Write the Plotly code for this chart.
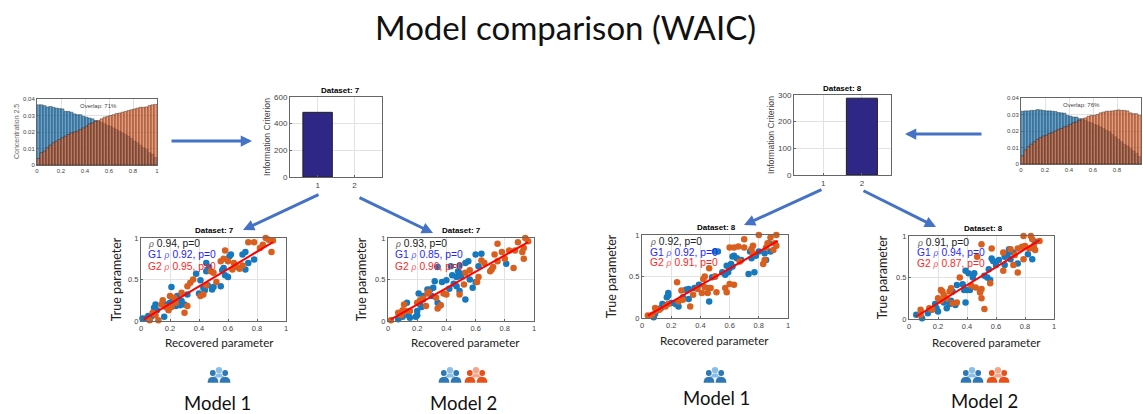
import plotly.graph_objects as go

W, H = 1143, 414

TITLE = "Model comparison (WAIC)"
HIST_BIN = 0.025

hist_l_blue = [0.0365,0.0365,0.036,0.0352,0.0355,0.035,0.0345,0.0342,0.034,0.0325,0.0325,0.032,0.031,0.0305,0.0305,0.0295,0.029,0.0285,0.028,0.027,
               0.0265,0.026,0.025,0.024,0.0235,0.0225,0.0215,0.0205,0.0195,0.0185,0.0175,0.016,0.0145,0.0135,0.012,0.0105,0.0095,0.0075,0.0065,0.0045]
hist_l_orange = [0.004,0.0075,0.0085,0.0105,0.012,0.0135,0.0145,0.0155,0.0165,0.0175,0.0185,0.0195,0.02,0.0205,0.0215,0.0225,0.0235,0.025,0.0255,0.0265,
                 0.027,0.028,0.029,0.0295,0.030,0.0305,0.0312,0.0315,0.032,0.0325,0.033,0.0335,0.034,0.0345,0.035,0.035,0.0352,0.036,0.0365,0.0367]
hist_r_blue = [0.032,0.0322,0.0322,0.0325,0.0325,0.033,0.0328,0.0325,0.0322,0.0322,0.032,0.0318,0.0312,0.031,0.0308,0.0295,0.029,0.0285,0.0285,0.0275,
               0.027,0.0265,0.0255,0.025,0.024,0.0235,0.0225,0.0215,0.0205,0.0195,0.018,0.0165,0.015,0.0135,0.012,0.011,0.0095,0.008,0.0065,0.0045]
hist_r_orange = [0.005,0.0085,0.0105,0.012,0.0135,0.015,0.016,0.017,0.0175,0.0185,0.019,0.02,0.021,0.0215,0.0225,0.023,0.024,0.025,0.0255,0.0265,
                 0.0275,0.028,0.029,0.0295,0.0295,0.030,0.031,0.0315,0.032,0.032,0.0322,0.0325,0.0328,0.0325,0.0325,0.0322,0.031,0.0305,0.0305,0.0295]

bar_models = [1, 2]
bar_l_values = [485, 0]
bar_r_values = [0, 288]

p1_g1 = [(0.01,0.03),(0.03,0.03),(0.05,0.06),(0.07,0.05),(0.09,0.16),(0.1,0.2),(0.11,0.13),(0.16,0.05),(0.18,0.2),(0.2,0.22),(0.21,0.41),(0.22,0.25),(0.24,0.18),(0.25,0.3),(0.26,0.21),(0.27,0.19),(0.28,0.24),(0.3,0.2),(0.32,0.32),(0.38,0.57),(0.4,0.33),(0.41,0.49),(0.43,0.4),(0.44,0.37),(0.45,0.6),(0.45,0.7),(0.46,0.43),(0.47,0.65),(0.49,0.38),(0.5,0.41),(0.55,0.42),(0.56,0.61),(0.57,0.64),(0.58,0.55),(0.6,0.53),(0.61,0.78),(0.62,0.8),(0.7,0.8),(0.72,0.62),(0.72,0.83),(0.74,0.7),(0.78,0.74)]
p1_g2 = [(0.06,0.01),(0.08,0.1),(0.1,0.07),(0.12,0.01),(0.14,0.2),(0.15,0.25),(0.17,0.17),(0.19,0.13),(0.2,0.3),(0.21,0.17),(0.23,0.28),(0.24,0.22),(0.28,0.34),(0.3,0.1),(0.32,0.18),(0.32,0.42),(0.34,0.46),(0.36,0.5),(0.41,0.3),(0.43,0.32),(0.45,0.43),(0.48,0.6),(0.5,0.58),(0.52,0.47),(0.55,0.72),(0.57,0.75),(0.58,0.85),(0.6,0.72),(0.63,0.62),(0.64,0.7),(0.66,0.65),(0.68,0.63),(0.7,0.67),(0.74,0.95),(0.78,0.95),(0.82,0.88),(0.84,0.92),(0.86,1.0),(0.88,0.98),(0.9,0.83),(0.91,0.97)]
p2_g1 = [(0.07,0.02),(0.1,0.05),(0.13,0.22),(0.14,0.07),(0.15,0.04),(0.19,0.05),(0.2,0.07),(0.2,0.12),(0.21,0.33),(0.22,0.2),(0.23,0.17),(0.24,0.26),(0.24,0.3),(0.27,0.38),(0.29,0.38),(0.3,0.3),(0.31,0.4),(0.32,0.48),(0.34,0.22),(0.36,0.19),(0.37,0.47),(0.4,0.49),(0.42,0.39),(0.44,0.55),(0.45,0.45),(0.47,0.42),(0.47,0.53),(0.48,0.6),(0.49,0.36),(0.5,0.57),(0.5,0.54),(0.53,0.26),(0.56,0.5),(0.58,0.4),(0.55,0.72),(0.6,0.47),(0.6,0.8),(0.62,0.66),(0.64,0.81),(0.34,0.65),(0.43,0.66),(0.49,0.67),(0.53,0.7),(0.81,0.69)]
p2_g2 = [(0.02,0.01),(0.07,0.1),(0.09,0.07),(0.1,0.13),(0.11,0.2),(0.12,0.12),(0.15,0.12),(0.2,0.22),(0.22,0.25),(0.24,0.27),(0.26,0.18),(0.27,0.33),(0.28,0.35),(0.33,0.28),(0.34,0.15),(0.36,0.19),(0.38,0.33),(0.4,0.32),(0.49,0.32),(0.52,0.44),(0.53,0.58),(0.56,0.61),(0.61,0.47),(0.62,0.53),(0.64,0.73),(0.66,0.7),(0.7,0.6),(0.71,0.62),(0.72,0.65),(0.73,0.8),(0.75,0.72),(0.78,0.83),(0.75,0.93),(0.8,0.75),(0.83,0.85),(0.86,0.64),(0.87,0.85),(0.89,0.95),(0.92,0.83),(0.93,0.75),(0.93,0.88),(0.94,1.0),(0.96,0.96)]
p3_g1 = [(0.08,0.01),(0.09,0.05),(0.13,0.12),(0.14,0.17),(0.16,0.15),(0.17,0.25),(0.18,0.27),(0.18,0.3),(0.2,0.18),(0.23,0.17),(0.25,0.14),(0.28,0.25),(0.3,0.34),(0.32,0.23),(0.32,0.35),(0.36,0.36),(0.39,0.4),(0.46,0.2),(0.46,0.36),(0.48,0.49),(0.5,0.5),(0.5,0.8),(0.52,0.8),(0.55,0.55),(0.57,0.52),(0.58,0.63),(0.59,0.55),(0.6,0.6),(0.61,0.65),(0.62,0.62),(0.62,0.74),(0.63,0.75),(0.65,0.72),(0.68,0.7),(0.73,0.53),(0.77,0.55),(0.74,0.8),(0.75,0.72),(0.78,0.75),(0.8,0.8),(0.85,0.7),(0.84,0.78),(0.87,0.9),(0.88,0.8)]
p3_g2 = [(0.04,0.03),(0.07,0.04),(0.09,0.12),(0.1,0.09),(0.12,0.1),(0.16,0.14),(0.18,0.17),(0.24,0.43),(0.25,0.2),(0.27,0.33),(0.28,0.22),(0.33,0.14),(0.35,0.28),(0.38,0.35),(0.41,0.3),(0.43,0.37),(0.45,0.3),(0.47,0.36),(0.42,0.47),(0.43,0.5),(0.46,0.6),(0.5,0.5),(0.51,0.31),(0.57,0.36),(0.58,0.31),(0.6,0.41),(0.63,0.4),(0.6,0.85),(0.63,0.85),(0.66,0.86),(0.67,0.68),(0.7,0.85),(0.7,0.95),(0.75,0.83),(0.76,0.78),(0.76,0.87),(0.8,1.0),(0.83,0.65),(0.84,0.7),(0.85,0.85),(0.86,0.9),(0.88,0.97),(0.9,0.82),(0.91,0.9),(0.92,0.87),(0.92,1.0)]
p4_g1 = [(0.05,0.05),(0.09,0.01),(0.13,0.07),(0.15,0.11),(0.18,0.18),(0.19,0.13),(0.2,0.09),(0.24,0.2),(0.26,0.13),(0.28,0.18),(0.29,0.22),(0.32,0.17),(0.33,0.41),(0.3,0.33),(0.37,0.42),(0.38,0.35),(0.39,0.58),(0.39,0.2),(0.4,0.35),(0.41,0.55),(0.42,0.35),(0.44,0.5),(0.45,0.55),(0.49,0.33),(0.52,0.52),(0.54,0.5),(0.55,0.6),(0.56,0.47),(0.57,0.73),(0.58,0.7),(0.6,0.65),(0.62,0.71),(0.66,0.65),(0.66,0.75),(0.68,0.78),(0.69,0.84),(0.7,0.72),(0.72,0.8),(0.75,0.67),(0.82,0.78),(0.85,0.72),(0.87,0.93)]
p4_g2 = [(0.08,0.11),(0.08,0.05),(0.14,0.13),(0.16,0.11),(0.2,0.25),(0.22,0.22),(0.22,0.35),(0.23,0.33),(0.24,0.29),(0.26,0.25),(0.28,0.33),(0.29,0.37),(0.3,0.19),(0.33,0.2),(0.35,0.5),(0.43,0.4),(0.46,0.38),(0.47,0.75),(0.49,0.32),(0.5,0.36),(0.5,0.25),(0.52,0.12),(0.5,0.9),(0.56,0.43),(0.57,0.85),(0.65,0.58),(0.65,0.8),(0.7,0.84),(0.72,0.65),(0.73,0.77),(0.75,0.85),(0.75,0.56),(0.78,0.87),(0.79,0.72),(0.8,0.88),(0.79,1.0),(0.83,0.85),(0.84,1.0),(0.85,0.96),(0.86,0.88),(0.87,0.83),(0.9,0.94)]

fit_x = [[0.02,0.91],[0.02,0.96],[0.04,0.93],[0.05,0.90]]
fit_y = [[0.02,0.95],[0.02,0.95],[0.03,0.93],[0.03,0.95]]
rho_all = ["0.94","0.93","0.92","0.91"]
rho_g1 = ["0.92","0.85","0.92","0.94"]
rho_g2 = ["0.95","0.96","0.91","0.87"]
datasets = ["Dataset: 7","Dataset: 7","Dataset: 8","Dataset: 8"]

MATLAB_BLUE, MATLAB_ORANGE = "#1679BD", "#D95F1E"
FONT = "Liberation Sans"
CAL = "Lato"
ARROW = "#4472C4"
FRAME = "#666666"
GRID = "#e2e2e2"
TICK = "#444444"

fig = go.Figure()

def fx(p): return p / W
def fy(p): return 1 - p / H

axis_n = [0]
def new_axes(box, xcfg, ycfg):
    axis_n[0] += 1
    n = axis_n[0]
    sfx = "" if n == 1 else str(n)
    l, t, r, b = box
    common = dict(showline=True, mirror=True, linecolor=FRAME, linewidth=1, gridcolor=GRID, gridwidth=1,
                  ticks="inside", ticklen=2, tickcolor=FRAME, zeroline=False, automargin=False)
    fig.layout["xaxis" + sfx] = dict(common, domain=[fx(l), fx(r)], anchor="y" + sfx, **xcfg)
    fig.layout["yaxis" + sfx] = dict(common, domain=[fy(b), fy(t)], anchor="x" + sfx, **ycfg)
    return "x" + sfx, "y" + sfx

def text(px, py, s, size, color="#000000", family=FONT, anchor="center", angle=0):
    fig.add_annotation(xref="paper", yref="paper", x=fx(px), y=fy(py), text=s, showarrow=False,
                       font=dict(size=size, color=color, family=family), xanchor=anchor, yanchor="middle", textangle=angle)

# Histograms
def hist(box, blue, orange):
    xa, ya = new_axes(box,
        dict(range=[0, 1], tickvals=[0,0.2,0.4,0.6,0.8,1], ticktext=["0","0.2","0.4","0.6","0.8","1"],
             tickfont=dict(size=6, family=FONT, color=TICK), showgrid=True),
        dict(range=[0, 0.04], tickvals=[0,0.01,0.02,0.03,0.04], ticktext=["0","0.01","0.02","0.03","0.04"],
             tickfont=dict(size=6, family=FONT, color=TICK), showgrid=True))
    for vals, c in ((blue, "rgba(22,121,189,0.68)"), (orange, "rgba(232,100,42,0.66)")):
        fig.add_trace(go.Bar(x0=HIST_BIN / 2, dx=HIST_BIN, y=vals, width=HIST_BIN, xaxis=xa, yaxis=ya,
                             marker=dict(color=c, line=dict(color="rgba(20,15,15,0.6)", width=0.6)),
                             showlegend=False))

hist((37, 99, 157, 165), hist_l_blue, hist_l_orange)
hist((1021, 98, 1141, 164), hist_r_blue, hist_r_orange)
text(16, 132, "Concentration 2.5", 7, "#666666", angle=-90)
text(98, 106, "Overlap: 71%", 6, "#444444")
text(1081, 105, "Overlap: 76%", 6, "#444444")

# Bar charts
def barchart(box, vals, ymax, dt):
    xa, ya = new_axes(box,
        dict(range=[0.25, 2.75], tickvals=bar_models, ticktext=[str(m) for m in bar_models],
             tickfont=dict(size=8, family=FONT, color=TICK), showgrid=True),
        dict(range=[0, ymax], dtick=dt, tickfont=dict(size=8, family=FONT, color=TICK), showgrid=True,
             title=dict(text="Information Criterion", font=dict(size=8.6, family=FONT, color="#444444"), standoff=2)))
    fig.add_trace(go.Bar(x=bar_models, y=vals, width=0.8, xaxis=xa, yaxis=ya,
                         marker=dict(color="#2E2785", line=dict(color="#222222", width=[1 if v else 0 for v in vals])),
                         showlegend=False))

barchart((290, 97, 382, 177), bar_l_values, 600, 200)
barchart((794, 95, 891, 175), bar_r_values, 300, 100)
text(340, 91, "<b>Dataset: 7</b>", 8)
text(843, 88, "<b>Dataset: 8</b>", 8)

# Scatter panels
boxes = [(141,238,286,321),(388,238,534,321),(642,235,788,318),(909,236,1054,319)]
stand_y = [3,5,9,5]
labels_at = [(146,243,255,266),(393,243,255,266),(648,241,252,262),(915,242,252,263)]
title_at = [(214,230),(461,230),(716,227),(983,228)]
xlabel_at = [(219,342),(465,342),(714,340),(986,342)]
groups = [(p1_g1,p1_g2),(p2_g1,p2_g2),(p3_g1,p3_g2),(p4_g1,p4_g2)]

def rho(c): return f'<span style="font-family:Liberation Serif;font-style:italic;color:{c}">ρ</span>'

for i, box in enumerate(boxes):
    xa, ya = new_axes(box,
        dict(range=[0, 1], tickvals=[0,0.2,0.4,0.6,0.8,1], ticktext=["0","0.2","0.4","0.6","0.8","1"],
             tickfont=dict(size=7.5, family=FONT, color=TICK), showgrid=True),
        dict(range=[0, 1], tickvals=[0,0.5,1], ticktext=["0","0.5","1"],
             tickfont=dict(size=7.5, family=FONT, color=TICK), showgrid=True,
             title=dict(text="True parameter", font=dict(size=12.5, family=CAL, color="#222222"), standoff=stand_y[i])))
    for pts, c in zip(groups[i], (MATLAB_BLUE, MATLAB_ORANGE)):
        fig.add_trace(go.Scatter(x=[p[0] for p in pts], y=[p[1] for p in pts], mode="markers", xaxis=xa, yaxis=ya,
                                 marker=dict(color=c, size=6.5), showlegend=False, cliponaxis=False))
    fig.add_trace(go.Scatter(x=fit_x[i], y=fit_y[i], mode="lines", xaxis=xa, yaxis=ya,
                             line=dict(color="#FF0000", width=2), showlegend=False))
    lx, y0, y1, y2 = labels_at[i]
    text(lx, y0, f'{rho("#666666")} {rho_all[i]}, p=0', 10.3, "#222222", anchor="left")
    text(lx, y1, f'G1 {rho("#6666ff")} {rho_g1[i]}, p=0', 10.3, "#1f1fff", anchor="left")
    text(lx, y2, f'G2 {rho("#ff6666")} {rho_g2[i]}, p=0', 10.3, "#ff1f1f", anchor="left")
    text(title_at[i][0], title_at[i][1], f"<b>{datasets[i]}</b>", 8)
    text(xlabel_at[i][0], xlabel_at[i][1], "Recovered parameter", 11.6, "#222222", CAL)

# Arrows
arrows = [((170,141),(252,141)),((983,134),(905,134)),
          ((320,194),(243,230)),((358,197),(433,233)),
          ((823,189),(744,225)),((862,190),(936,227))]
for (x0,y0),(x1,y1) in arrows:
    fig.add_annotation(xref="paper", yref="paper", x=fx(x1), y=fy(y1), ax=x0-x1, ay=y0-y1, text="",
                       showarrow=True, arrowhead=2, arrowsize=0.75, arrowwidth=3, arrowcolor=ARROW, standoff=0)

# People icons
def circle(cx, cy, r, c):
    fig.add_shape(type="circle", xref="paper", yref="paper", x0=fx(cx-r), x1=fx(cx+r), y0=fy(cy+r), y1=fy(cy-r),
                  fillcolor=c, line=dict(width=0))
def body(cx, top, w, h, c):
    x0, x1 = fx(cx-w), fx(cx+w)
    y0, y1 = fy(top+h), fy(top)
    xm = fx(cx)
    path = f"M {x0} {y0} Q {x0} {y1} {xm} {y1} Q {x1} {y1} {x1} {y0} Z"
    fig.add_shape(type="path", xref="paper", yref="paper", path=path, fillcolor=c, line=dict(width=0))
def icon(cx, top, dark, light):
    circle(cx, top+3.2, 3.2, light)
    body(cx, top+6.5, 5, 4, light)
    for s in (-1, 1):
        circle(cx+s*6.2, top+6, 3.6, "#ffffff")
        circle(cx+s*6.2, top+6, 2.9, dark)
        body(cx+s*6, top+9.8, 5.4, 6, dark)

icon(219, 367, "#2F78B5", "#8CBFE6")
icon(450, 367, "#2F78B5", "#8CBFE6")
icon(476, 367, "#E8501A", "#F5A58A")
icon(715, 367, "#2F78B5", "#8CBFE6")
icon(972, 367, "#2F78B5", "#8CBFE6")
icon(998, 367, "#E8501A", "#F5A58A")

text(217, 402.5, "Model 1", 18.5, "#111111", CAL)
text(463, 402.5, "Model 2", 18.5, "#111111", CAL)
text(716, 398, "Model 1", 18.5, "#111111", CAL)
text(984, 401, "Model 2", 18.5, "#111111", CAL)
text(565, 27, TITLE, 33, "#111111", CAL)

fig.update_layout(width=W, height=H, autosize=False, margin=dict(l=0, r=0, t=0, b=0),
                  paper_bgcolor="white", plot_bgcolor="white", barmode="overlay", showlegend=False,
                  font=dict(family=FONT))
fig.write_html("out.html", config={"displayModeBar": False},
               post_script="document.body.style.margin='0';document.documentElement.style.overflow='hidden';")
